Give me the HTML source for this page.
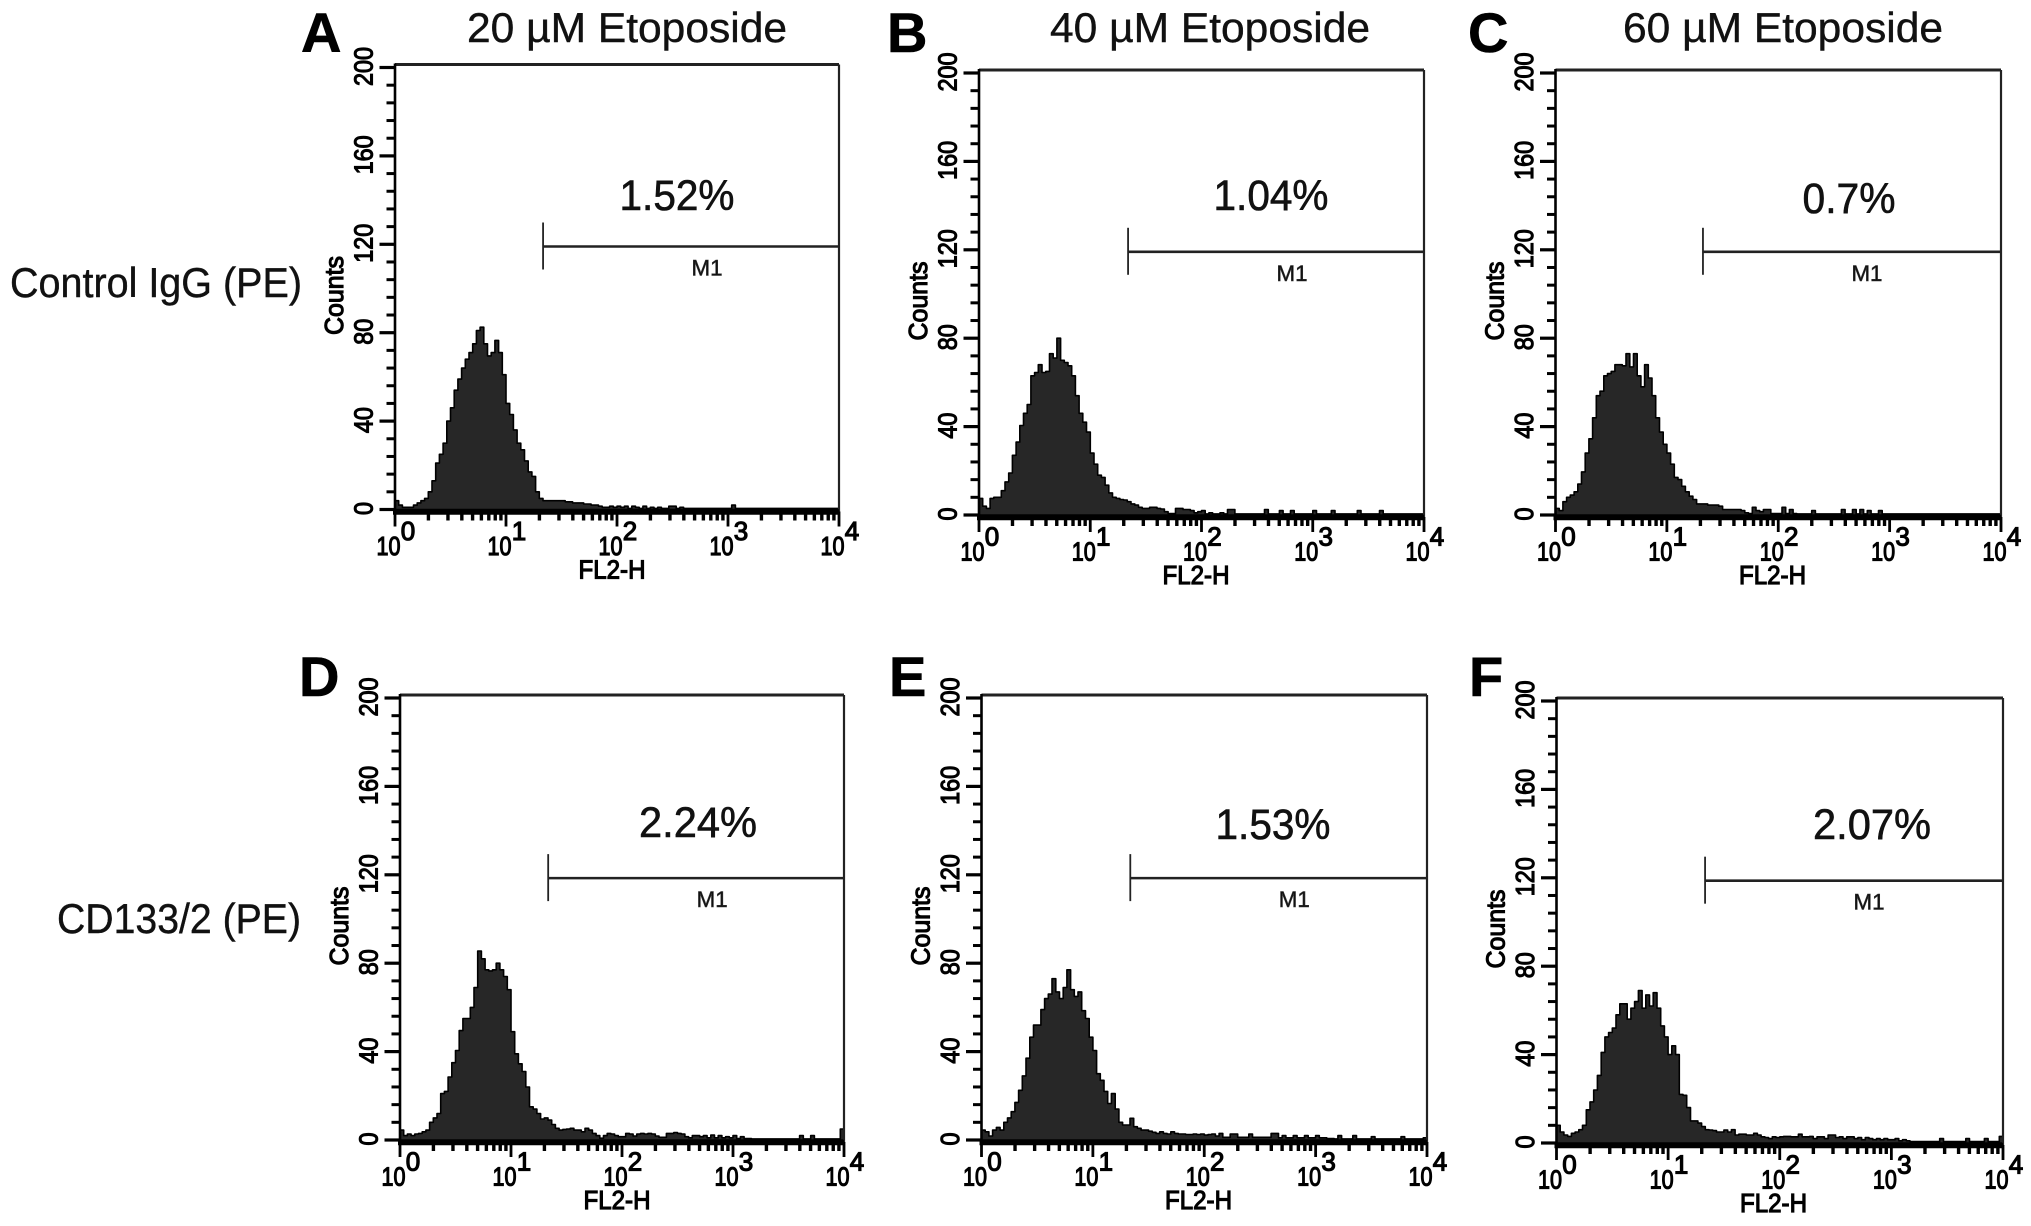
<!DOCTYPE html>
<html lang="en">
<head>
<meta charset="utf-8">
<title>Flow cytometry histograms: etoposide treatment</title>
<style>
html,body{margin:0;padding:0;background:#fff;}
svg{display:block;}
text{font-family:"Liberation Sans",sans-serif;fill:#111;}
.head{font-size:42px;stroke:#111;stroke-width:.4px;}
.letter{font-size:56px;font-weight:bold;fill:#000;stroke:#000;stroke-width:.6px;}
.tick{font-size:26px;stroke:#000;stroke-width:1.15px;fill:#000;}
.pct{font-size:43px;stroke:#111;stroke-width:.6px;}
</style>
</head>
<body>
<svg id="fig" xmlns="http://www.w3.org/2000/svg" width="2031" height="1226" viewBox="0 0 2031 1226">
<rect x="0" y="0" width="2031" height="1226" fill="#fff"/>
<text class="head" x="627" y="42" text-anchor="middle" textLength="320" lengthAdjust="spacingAndGlyphs">20 µM Etoposide</text>
<text class="head" x="1210" y="42" text-anchor="middle" textLength="320" lengthAdjust="spacingAndGlyphs">40 µM Etoposide</text>
<text class="head" x="1783" y="42" text-anchor="middle" textLength="320" lengthAdjust="spacingAndGlyphs">60 µM Etoposide</text>
<text class="head" x="10" y="297" textLength="292" lengthAdjust="spacingAndGlyphs">Control IgG (PE)</text>
<text class="head" x="57" y="933" textLength="244" lengthAdjust="spacingAndGlyphs">CD133/2 (PE)</text>
<text class="letter" x="301" y="52">A</text>
<text class="letter" x="887" y="52">B</text>
<text class="letter" x="1468" y="52">C</text>
<text class="letter" x="299" y="696">D</text>
<text class="letter" x="889" y="696">E</text>
<text class="letter" x="1469" y="696">F</text>
</svg>
<script>
// ---- chart data (counts per bin, 30 bins per log decade) ----
const countsA = [4,2,1,1,1,2,3,4,5,8,13,21,25,30,40,46,54,59,64,68,71,75,81,82.5,75,69.5,71,76.5,71,61,48,43,36,30,27,22,17,15,8,5,
4,4,4,4,4,4,3.5,3.5,3,3,3,2.5,2.5,2,2,1.5,1,1,1.5,1,
1.5,1,1.5,.5,1.5,1,.5,1.5,.5,1,.5,1,.5,.5,1.5,1.5,.5,1,.5,.5,
.5,.5,.5,.5,.5,.5,.5,.5,.5,.5,.5,2,.5,.5,.5,.5,.5,.5,.5,.5,
.5,.5,.5,.5,.5,.5,.5,.5,.5,.5,.5,.5,.5,.5,.5,.5,.5,.5,.5,.5];
const countsB = [7.5,4,3,7.5,8,8,11,15,19,27,33,40.5,46,50,63,64.5,68,64.5,65,73,71,80,70,69,67.5,63,54,46,42,37.5,28,23,18,17,13.5,10,8,7.5,7,6.8,
6,5,4.5,3.5,3,3,3.5,3.5,3,2.7,1.5,.7,.7,3,3,2.5,2.5,2,1,1.5,
2,.5,1,.5,.5,1,.5,2.5,2.5,.5,.5,.5,.5,.5,.5,.5,.5,2.5,.5,.5,
.5,2,.5,.5,2,.5,.5,.5,.5,.5,2,.5,.5,.5,.5,2,.5,.5,.5,.5,
.5,.5,2,.5,.5,.5,.5,.5,2,.5,.5,.5,.5,.5,.5,.5,.5,.5,.5,.5];
const countsC = [3,2,6,8,9,10.5,14,19.5,28,34.5,44,54,56,63,64,65,68,68,67.5,73,67,73,63,58,68,62,54,44,37.5,32,28,23,17,16,13,10.5,8.5,7,5,5,
5,4.5,4.5,4.5,4,2.5,2.5,2.5,2.5,2.5,2,1,.7,3.5,2,1.5,2.5,2.5,.7,.7,
.7,3.5,.7,2.5,.7,.5,.5,.5,.5,2,.5,.5,.5,.5,.5,.5,.5,2.5,.5,.5,
2.5,.5,2.5,.5,2,.5,.5,2,.5,.5,.5,.5,.5,.5,.5,.5,.5,.5,.5,.5,
.5,.5,.5,.5,.5,.5,.5,.5,.5,.5,.5,.5,.5,.5,.5,.5,.5,.5,.5,.5];
const countsD = [4.5,2,2.7,2,2.7,3,3.7,4.5,8,10,12,21,22,28.5,35,40.5,49.5,55,55,60,69,85.5,82,77,76.5,77,80,77,74,68,49,39,34.5,31,24,15,14,12,9.5,10,
9,7,5.3,4.5,4.8,5,5.3,4.5,4.5,3.7,5.3,4.5,3,2,.8,2,3,2.7,2,1.5,
1.5,3,2.7,1.8,2.7,3,2.7,3,2.7,1.8,1.2,1.2,3,3,3.4,3,2.7,1.5,1,2,
2,1.5,2,1,2.2,1,2,1,1.5,1,2,.7,1.5,.7,.7,.5,.5,.5,.5,.5,
.5,.5,.5,.5,.5,.5,.5,.5,2,.5,.5,2,.5,.5,.5,.5,.5,.5,.5,5];
const countsE = [4.5,3.7,1.8,4.5,5.7,4.5,8,10,12.8,17,22.5,29,37,46.5,52,52,59,64,66,73,67,64,69,77,68,65,67,58.5,55,46.5,40.5,30,27,22,16.5,21,14,8,6.8,6.8,
9.8,6,5.3,4.5,4.5,4,3.5,3,3.7,3,2.7,3.7,3,2.7,2.7,2.5,2.5,2.7,2.5,2.7,
2.2,2.5,2.7,1.8,3,1.2,1.2,2.7,2.7,1.2,1.2,1.2,2.7,1.2,1.2,1.2,1.2,1.2,3,3,
1,2,1,1,2,1,1,2,1,1,2,1,1,.7,.7,.5,2,.5,.5,.5,
2,.5,.5,.5,.5,1.5,.5,.5,.5,.5,.5,.5,.5,1.5,.5,.5,.5,.5,.5,1];
const countsF = [8,5,3.6,3,4.4,5,6,8,15,18.6,24,30.6,41,48,50,52,58,63,63,56,61,64,69,61,67,62,68,61,53,48,40,44,40,22,21.6,16,10,10,9,7.4,
6,5.9,5.6,5,5,5.9,5,6,3.6,4,4,3.6,3.6,4.4,3.6,2.8,2.5,2,2.8,2.5,
2.8,3,3,2.8,2.8,4,2.8,2.8,3,2,2.8,2.8,2,3.6,3.6,2.5,2.8,2,2.8,2.8,
2,2.5,1.5,2.5,2,1.5,2,1.5,2,1.5,1.5,2,1,1.5,1,.7,.7,.7,.7,.7,
.7,.7,.7,2,.7,.7,.7,.7,.7,.7,2,.7,.7,.7,.7,2,.7,.7,.7,3];
const panelIds = ['a','b','c','d','e','f'];
const panelCounts = [countsA,countsB,countsC,countsD,countsE,countsF];
const percentLabels = ['1.52%','1.04%','0.7%','2.24%','1.53%','2.07%'];
const gateDecades = [1.334,1.340,1.324,1.335,1.336,1.331];
const gateCounts = [119,119.1,119.1,118.5,118.5,118.7];
const yTickLabels = [0,40,80,120,160,200];
const xTickExponents = [0,1,2,3,4];
const xTickBase = '10';
const yAxisTitle = 'Counts';
const xAxisTitle = 'FL2-H';
const gateLabel = 'M1';
const binsPerDecade = 30;
const decadeCount = 4;
const yMax = 200;
const yMinorStep = 8;

// ---- layout (pixel frames of each panel, not data) ----
const frames = [
  {l:395,  r:839, y0:509.5,pctX:677,pctY:210,pctW:115},
  {l:979,  r:1424,y0:515,  pctX:1271,pctY:210,pctW:115},
  {l:1555.5,r:2001,y0:515, pctX:1849,pctY:213,pctW:93},
  {l:400,  r:844, y0:1140, pctX:698,pctY:837,pctW:118},
  {l:981.5,r:1427,y0:1140, pctX:1273,pctY:839,pctW:115},
  {l:1556.5,r:2003,y0:1143,pctX:1872,pctY:839,pctW:118}
];
const PX_PER_COUNT = 2.21;
const SVGNS = 'http://www.w3.org/2000/svg';
const root = document.getElementById('fig');

function make(tag, attrs, parent, text){
  const el = document.createElementNS(SVGNS, tag);
  for (const k in attrs) el.setAttribute(k, attrs[k]);
  if (text !== undefined) el.textContent = text;
  parent.appendChild(el);
  return el;
}

panelIds.forEach(function(id, p){
  const f = frames[p];
  const values = panelCounts[p];
  const xScale = function(decade){ return f.l + (f.r - f.l) * decade / decadeCount; };
  const yScale = function(count){ return f.y0 - count * PX_PER_COUNT; };

  const g = make('g', {}, root);
  
  

  // histogram
  let d = 'M' + xScale(0) + ' ' + yScale(0);
  values.forEach(function(v, i){
    const x0 = xScale(i / binsPerDecade);
    const x1 = xScale(Math.min((i + 1) / binsPerDecade, decadeCount));
    d += 'L' + x0.toFixed(1) + ' ' + yScale(v).toFixed(1) + 'L' + x1.toFixed(1) + ' ' + yScale(v).toFixed(1);
  });
  d += 'L' + xScale(decadeCount) + ' ' + yScale(0) + 'Z';
  const hist = make('path', {d:d, fill:'#272727', stroke:'#000', 'stroke-width':1.6, 'stroke-linejoin':'round'}, g);
  
  

  // plot frame
  const topY = yScale(yMax) - 3;
  const topLine = make('line', {x1:f.l, x2:f.r, y1:topY, y2:topY, stroke:'#222', 'stroke-width':3}, g);
  
  
  const rightLine = make('line', {x1:f.r, x2:f.r, y1:topY, y2:f.y0 + 3, stroke:'#222', 'stroke-width':2.2}, g);
  
  
  const leftLine = make('line', {x1:f.l, x2:f.l, y1:topY - 1, y2:f.y0 + 4, stroke:'#000', 'stroke-width':2.6}, g);
  
  
  const baseLine = make('line', {x1:f.l - 2, x2:f.r, y1:f.y0 + 2.5, y2:f.y0 + 2.5, stroke:'#000', 'stroke-width':5.5}, g);
  
  

  // y ticks
  for (let c = 0; c <= yMax; c += yMinorStep){
    const major = yTickLabels.indexOf(c) >= 0;
    const t = make('line', {x1:f.l - (major ? 15.5 : 8.5), x2:f.l, y1:yScale(c), y2:yScale(c), stroke:'#000', 'stroke-width':major ? 3.2 : 3}, g);
    
    
  }
  yTickLabels.forEach(function(v){
    const s = String(v);
    const lx = f.l - 22.5, ly = yScale(v) - 1;
    const t = make('text', {class:'tick', x:0, y:0, 'text-anchor':'middle', textLength:s.length * 13, lengthAdjust:'spacingAndGlyphs', transform:'translate(' + lx + ' ' + ly + ') rotate(-90)'}, g, s);
    
    
  });
  const yT = make('text', {class:'tick', x:0, y:0, 'text-anchor':'middle', textLength:79, lengthAdjust:'spacingAndGlyphs', transform:'translate(' + (f.l - 52) + ' ' + (f.y0 - 214) + ') rotate(-90)'}, g, yAxisTitle);
  
  

  // x ticks
  xTickExponents.forEach(function(e){
    const x = xScale(e);
    const mt = make('line', {x1:x, x2:x, y1:f.y0 + 2, y2:f.y0 + 17, stroke:'#000', 'stroke-width':2.8}, g);
    
    
    const base = make('text', {class:'tick', x:x - 6.5, y:f.y0 + 45.5, 'text-anchor':'middle', textLength:24, lengthAdjust:'spacingAndGlyphs'}, g, xTickBase);
    
    
    const sup = make('text', {class:'tick', x:x + 13, y:f.y0 + 30.5, 'text-anchor':'middle'}, g, String(e));
    
    
    if (e < decadeCount){
      for (let k = 2; k <= 9; k++){
        const mx = xScale(e + Math.log10(k));
        const m = make('line', {x1:mx, x2:mx, y1:f.y0 + 3, y2:f.y0 + 11, stroke:'#000', 'stroke-width':3.4}, g);
        
        
      }
    }
  });
  const xT = make('text', {class:'tick', x:f.l + 217, y:f.y0 + 69, 'text-anchor':'middle', textLength:67, lengthAdjust:'spacingAndGlyphs'}, g, xAxisTitle);
  
  

  // marker gate M1
  const gx = xScale(gateDecades[p]), gy = yScale(gateCounts[p]);
  const gv = make('line', {x1:gx, x2:gx, y1:gy - 24, y2:gy + 23, stroke:'#222', 'stroke-width':1.8}, g);
  
  
  const gh = make('line', {x1:gx, x2:f.r, y1:gy, y2:gy, stroke:'#222', 'stroke-width':2.6}, g);
  
  
  const gl = make('text', {x:gx + 164, y:gy + 29, 'text-anchor':'middle', 'font-size':22, textLength:31, lengthAdjust:'spacingAndGlyphs', stroke:'#333', 'stroke-width':.6}, g, gateLabel);
  
  

  // printed percentage
  const pc = make('text', {class:'pct', x:f.pctX, y:f.pctY, 'text-anchor':'middle', textLength:f.pctW, lengthAdjust:'spacingAndGlyphs'}, g, percentLabels[p]);
  
  
});
</script>
</body>
</html>
